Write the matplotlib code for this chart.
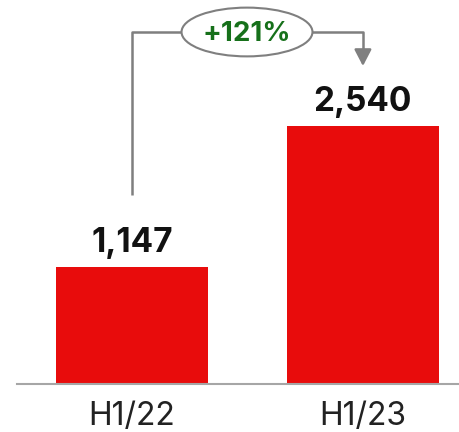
import matplotlib.pyplot as plt
from matplotlib.patches import Ellipse

plt.rcParams['font.family'] = ['Inter', 'DejaVu Sans']

periods = ['H1/22', 'H1/23']
values = [1147, 2540]
value_labels = ['1,147', '2,540']
growth_label = '+121%'

bar_red = '#E80C0C'
line_grey = '#7F7F7F'
growth_green = '#16701A'

fig = plt.figure(figsize=(4.59, 4.32), dpi=100)
ax = fig.add_axes([17 / 459, 1 - 384 / 432, 442 / 459, 384 / 432])

x = range(len(values))
ax.bar(x, values, width=0.658, color=bar_red, zorder=2)

for xi, v, lab in zip(x, values, value_labels):
    ax.text(xi, v + 150, lab, ha='center', va='baseline', fontsize=24,
            fontweight='bold', color='#111111')

ax.set_xlim(-0.498, 1.416)
ax.set_ylim(0, 3780)

# growth bracket: from first bar label up, across the oval, down onto second bar
y_top = 3465
ax.plot([0, 0, 0.22], [1860, y_top, y_top], color=line_grey, lw=1.8,
        clip_on=False, solid_capstyle='butt')
ax.plot([0.78, 1.0, 1.0], [y_top, y_top, 3280], color=line_grey, lw=1.8,
        clip_on=False, solid_capstyle='butt')
ax.annotate('', xy=(1.0, 3130), xytext=(1.0, 3290),
            arrowprops=dict(arrowstyle='-|>,head_length=1.0,head_width=0.52',
                            color=line_grey, lw=1.8, shrinkA=0, shrinkB=0),
            annotation_clip=False)
ax.add_patch(Ellipse((0.498, 3465), 0.567, 480, facecolor='white',
                     edgecolor=line_grey, lw=1.5, clip_on=False, zorder=3))
ax.text(0.498, 3450, growth_label, ha='center', va='center', fontsize=20,
        fontweight='bold', color=growth_green, zorder=4)

for side in ['top', 'right', 'left']:
    ax.spines[side].set_visible(False)
ax.spines['bottom'].set_color('#A6A6A6')
ax.spines['bottom'].set_linewidth(1.5)
ax.set_yticks([])
ax.set_xticks(list(x))
ax.set_xticklabels(periods, fontsize=23, color='#222222')
ax.tick_params(axis='x', length=0, pad=12)

fig.savefig('out.png', dpi=100)
